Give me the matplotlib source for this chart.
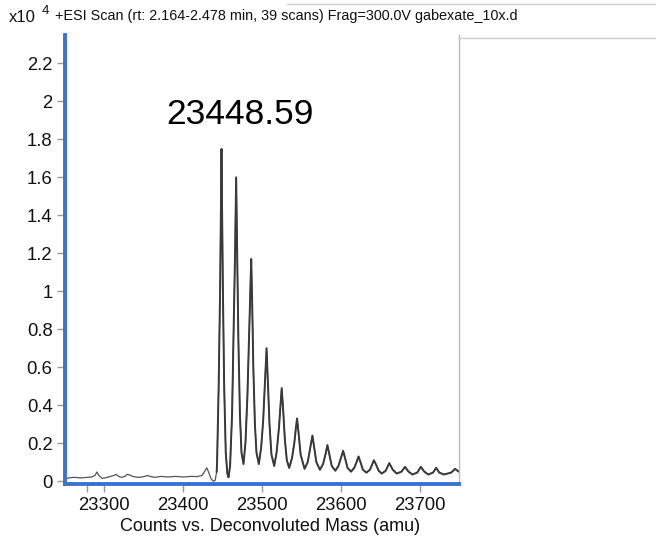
import numpy as np
import matplotlib.pyplot as plt
from matplotlib.lines import Line2D

plt.rcParams['font.family'] = ['Liberation Sans', 'DejaVu Sans']

# deconvoluted spectrum (intensity in units of 1e4 counts)
mass = [23250, 23256, 23262, 23270, 23278, 23284, 23288, 23290.5, 23293, 23297,
        23302, 23308, 23312, 23315, 23318, 23322, 23326, 23329, 23332, 23336,
        23342, 23348, 23352, 23355, 23358, 23364, 23372, 23380, 23390, 23400,
        23410, 23418, 23424, 23427, 23430, 23432.5, 23435, 23438, 23440.5, 23442.5,
        23443, 23445, 23446.8, 23447.9, 23448.6, 23449.3, 23450.4, 23452, 23454, 23456, 23457.5,
        23459.5, 23462, 23464, 23465.8, 23467.2, 23468.5, 23470, 23472, 23474, 23476.5,
        23479, 23481.5, 23483.5, 23485.2, 23486.3, 23487.5, 23489, 23491, 23493, 23496,
        23499, 23501.5, 23503.5, 23505.8, 23507.5, 23509.5, 23512, 23515.5,
        23518.5, 23521.5, 23523.5, 23525, 23526.8, 23529, 23531.5, 23534.5,
        23538, 23541, 23543, 23544.5, 23546.5, 23549, 23554,
        23558, 23561, 23564, 23566.5, 23569, 23573.5,
        23577.5, 23580.5, 23583, 23585.5, 23588.5, 23593,
        23597, 23600, 23603, 23605.5, 23608.5, 23613,
        23617, 23620, 23622.5, 23625, 23628, 23632.5,
        23637, 23640, 23642, 23645, 23648, 23652,
        23657, 23661.5, 23666, 23671,
        23677, 23681.5, 23686, 23691,
        23697, 23701.5, 23706, 23711,
        23717, 23721, 23725, 23731,
        23740, 23745, 23748, 23750]
counts = [0.012, 0.018, 0.02, 0.017, 0.02, 0.022, 0.03, 0.048, 0.03, 0.015,
          0.018, 0.025, 0.03, 0.036, 0.025, 0.02, 0.025, 0.036, 0.033, 0.025,
          0.02, 0.022, 0.026, 0.03, 0.025, 0.02, 0.025, 0.022, 0.025, 0.022,
          0.025, 0.024, 0.03, 0.05, 0.07, 0.045, 0.015, 0.0, 0.003, 0.05,
          0.1, 0.5, 1.0, 1.45, 1.75, 1.45, 1.0, 0.5, 0.15, 0.04, 0.02,
          0.08, 0.35, 0.8, 1.2, 1.60, 1.2, 0.75, 0.35, 0.15, 0.09,
          0.2, 0.45, 0.75, 1.0, 1.17, 0.95, 0.6, 0.3, 0.15, 0.09,
          0.18, 0.32, 0.5, 0.70, 0.52, 0.3, 0.14, 0.08,
          0.15, 0.28, 0.4, 0.49, 0.38, 0.22, 0.11, 0.07,
          0.12, 0.2, 0.28, 0.33, 0.25, 0.14, 0.065,
          0.1, 0.17, 0.24, 0.17, 0.1, 0.06,
          0.09, 0.14, 0.19, 0.14, 0.08, 0.055,
          0.08, 0.12, 0.16, 0.12, 0.07, 0.05,
          0.07, 0.1, 0.13, 0.1, 0.06, 0.045,
          0.06, 0.09, 0.11, 0.085, 0.055, 0.04,
          0.055, 0.095, 0.06, 0.04,
          0.05, 0.075, 0.05, 0.035,
          0.045, 0.075, 0.05, 0.035,
          0.045, 0.07, 0.045, 0.035,
          0.045, 0.065, 0.055, 0.05]

x_ticks = [23300, 23400, 23500, 23600, 23700]
y_ticks = [0, 0.2, 0.4, 0.6, 0.8, 1, 1.2, 1.4, 1.6, 1.8, 2, 2.2]
y_labels = ['0', '0.2', '0.4', '0.6', '0.8', '1', '1.2', '1.4', '1.6', '1.8', '2', '2.2']
top_label = '23448.59'

mass = np.array(mass)
counts = np.array(counts)

fig = plt.figure(figsize=(6.56, 5.37), dpi=100)
ax = fig.add_axes([65/656, 1 - 484/537, (459 - 65)/656, (484 - 35)/537])

ax.plot(mass, counts, color='#555555', lw=0.9)
tail = mass >= 23441
ax.plot(mass[tail], counts[tail], color='#3a3a3a', lw=1.4, solid_joinstyle='round')

ax.set_xlim(23250, 23750)
ax.set_ylim(-0.015, 2.35)
ax.set_xticks(x_ticks)
ax.set_xticks([23278], minor=True)
ax.set_yticks(y_ticks)
ax.set_yticklabels(y_labels)
ax.tick_params(which='both', direction='out', length=6, width=1, color='#999999',
               labelsize=13.3, labelcolor='#111111', pad=3)

for s in ['left', 'bottom']:
    ax.spines[s].set_color('#3a72d4')
    ax.spines[s].set_linewidth(2.8)
ax.spines['top'].set_visible(False)
ax.spines['right'].set_color('#bbbbbb')
ax.spines['right'].set_linewidth(1)

ax.set_xlabel('Counts vs. Deconvoluted Mass (amu)', fontsize=13, color='#111111', labelpad=3)
ax.xaxis.set_label_coords((270 - 65)/394, -0.075)

ax.text(23472, 1.93, top_label, ha='center', va='center', fontsize=25.5)

fig.text(55/656, 1 - 16/537, '+ESI Scan (rt: 2.164-2.478 min, 39 scans) Frag=300.0V gabexate_10x.d',
         ha='left', va='center', fontsize=10.4, color='#111111')
fig.text(9/656, 1 - 17/537, 'x10', ha='left', va='center', fontsize=12, color='#111111')
fig.text(42/656, 1 - 11/537, '4', ha='left', va='center', fontsize=9.5, color='#111111')

fig.add_artist(Line2D([459/656, 1], [1 - 38/537, 1 - 38/537], color='#cccccc', lw=1))
fig.add_artist(Line2D([287/656, 1], [1 - 4/537, 1 - 4/537], color='#cccccc', lw=1))

fig.savefig('out.png', dpi=100)
